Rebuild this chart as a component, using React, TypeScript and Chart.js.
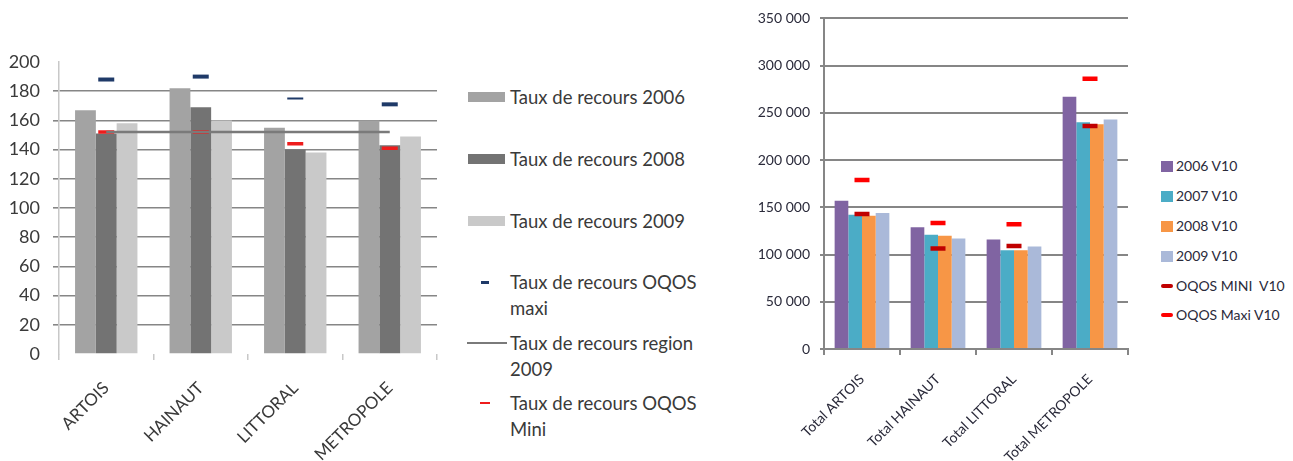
import React, { useEffect, useRef } from 'react';
import { Chart, registerables } from 'chart.js';
Chart.register(...registerables);

// ---- Left chart data ----
const regions = ['ARTOIS', 'HAINAUT', 'LITTORAL', 'METROPOLE'];
const taux2006 = [167, 182, 155, 160];
const taux2008 = [151, 169, 140, 143];
const taux2009 = [158, 160, 138, 149];
const oqosMaxi = [188, 190, 175, 171];
const region2009 = [152, 152, 152, 152];
const oqosMini = [152, 152, 144, 141];
const leftMin = 0;
const leftMax = 200;
const leftStep = 20;

// ---- Right chart data ----
const totals = ['Total ARTOIS', 'Total HAINAUT', 'Total LITTORAL', 'Total METROPOLE'];
const v2006 = [157000, 129000, 116000, 267000];
const v2007 = [142000, 121000, 104500, 240000];
const v2008 = [141000, 120000, 104500, 238000];
const v2009 = [144000, 117000, 108500, 243000];
const oqosMiniV10 = [143000, 106500, 109000, 236000];
const oqosMaxiV10 = [179000, 133500, 132000, 286000];
const rightMin = 0;
const rightMax = 350000;
const rightStep = 50000;

const FONT = 'Lato, "Open Sans", sans-serif';

const C = {
  g2006: '#a3a3a3',
  g2008: '#737373',
  g2009: '#c9c9c9',
  navy: '#1f3a68',
  regionLine: '#7a7a7a',
  red: '#ee1c1c',
  purple: '#8064a2',
  teal: '#4bacc6',
  orange: '#f79646',
  lightBlue: '#aab9d9',
  maxiRed: '#ff0000',
  miniRed: '#c00000',
};

function fmtThousands(v: number) {
  return String(v).replace(/\B(?=(\d{3})+(?!\d))/g, ' ');
}

function LeftChart() {
  const ref = useRef<HTMLCanvasElement>(null);
  useEffect(() => {
    const chart = new Chart(ref.current!, {
      type: 'bar',
      data: {
        labels: regions,
        datasets: [
          {
            type: 'line', label: 'Taux de recours OQOS maxi', data: oqosMaxi, showLine: false,
            pointStyle: 'line', pointRadius: 8, pointBorderWidth: [4, 4, 2, 4] as any,
            borderColor: C.navy, backgroundColor: C.navy, order: 0,
          } as any,
          {
            type: 'line', label: 'Taux de recours region 2009', data: region2009,
            borderColor: C.regionLine, borderWidth: 2.5, pointRadius: 0, order: 0,
          } as any,
          {
            type: 'line', label: 'Taux de recours OQOS Mini', data: oqosMini, showLine: false,
            pointStyle: 'line', pointRadius: 8, pointBorderWidth: 3.5,
            borderColor: C.red, backgroundColor: C.red, order: 0,
          } as any,
          { label: 'Taux de recours 2006', data: taux2006, backgroundColor: C.g2006, order: 1 },
          { label: 'Taux de recours 2008', data: taux2008, backgroundColor: C.g2008, order: 1 },
          { label: 'Taux de recours 2009', data: taux2009, backgroundColor: C.g2009, order: 1 },
        ],
      },
      options: {
        animation: false,
        responsive: false,
        layout: { padding: { left: 0, top: 62, right: 23, bottom: 0 } },
        plugins: { legend: { display: false }, tooltip: { enabled: false } },
        datasets: { bar: { categoryPercentage: 0.66, barPercentage: 1 } },
        scales: {
          x: {
            offset: true,
            grid: { offset: true, drawOnChartArea: false, color: '#c8c8c8', tickLength: 6, lineWidth: 1.5 },
            border: { display: false },
            ticks: { color: '#3a3a3a', font: { family: FONT, size: 17 }, minRotation: 45, maxRotation: 45, padding: 18 },
            afterFit: (s: any) => { s.height = 107; },
          },
          y: {
            min: leftMin, max: leftMax,
            ticks: { stepSize: leftStep, color: '#3a3a3a', font: { family: FONT, size: 18 }, padding: 13 },
            grid: {
              color: (ctx: any) => (ctx.tick && (ctx.tick.value === leftMin || ctx.tick.value === leftMax) ? 'rgba(0,0,0,0)' : '#868686'),
              lineWidth: 1.6, tickLength: 6,
            },
            border: { color: '#c8c8c8', width: 1.5 },
            afterFit: (s: any) => { s.width = 59; },
          },
        },
      } as any,
    });
    return () => chart.destroy();
  }, []);
  return <canvas ref={ref} width={460} height={461} style={{ position: 'absolute', left: 0, top: 0 }} />;
}

function RightChart() {
  const ref = useRef<HTMLCanvasElement>(null);
  useEffect(() => {
    const chart = new Chart(ref.current!, {
      type: 'bar',
      data: {
        labels: totals,
        datasets: [
          {
            type: 'line', label: 'OQOS MINI  V10', data: oqosMiniV10, showLine: false,
            pointStyle: 'line', pointRadius: 7.5, pointBorderWidth: 4.5,
            borderColor: C.miniRed, backgroundColor: C.miniRed, order: 0,
          } as any,
          {
            type: 'line', label: 'OQOS Maxi V10', data: oqosMaxiV10, showLine: false,
            pointStyle: 'line', pointRadius: 7.5, pointBorderWidth: 4.5,
            borderColor: C.maxiRed, backgroundColor: C.maxiRed, order: 0,
          } as any,
          { label: '2006 V10', data: v2006, backgroundColor: C.purple, order: 1 },
          { label: '2007 V10', data: v2007, backgroundColor: C.teal, order: 1 },
          { label: '2008 V10', data: v2008, backgroundColor: C.orange, order: 1 },
          { label: '2009 V10', data: v2009, backgroundColor: C.lightBlue, order: 1 },
        ],
      },
      options: {
        animation: false,
        responsive: false,
        layout: { padding: { left: 0, top: 14, right: 3, bottom: 0 } },
        plugins: { legend: { display: false }, tooltip: { enabled: false } },
        datasets: { bar: { categoryPercentage: 0.72, barPercentage: 1 } },
        scales: {
          x: {
            offset: true,
            grid: { offset: true, drawOnChartArea: false, color: '#868686', tickLength: 6, lineWidth: 2 },
            border: { color: '#868686', width: 2 },
            ticks: { color: '#2a2a3a', font: { family: FONT, size: 14 }, minRotation: 45, maxRotation: 45, padding: 16 },
            afterFit: (s: any) => { s.height = 112; },
          },
          y: {
            min: rightMin, max: rightMax,
            ticks: { stepSize: rightStep, color: '#2a2a3a', font: { family: FONT, size: 14 }, padding: 10, callback: (v: any) => fmtThousands(v) },
            grid: { color: '#868686', lineWidth: 2, tickLength: 4 },
            border: { color: '#868686', width: 2 },
            afterFit: (s: any) => { s.width = 84; },
          },
        },
      } as any,
    });
    return () => chart.destroy();
  }, []);
  return <canvas ref={ref} width={400} height={461} style={{ position: 'absolute', left: 740, top: 0 }} />;
}

type LeftItem = { lines: string[]; y: number; kind: 'box' | 'dash' | 'line' | 'thin'; color: string };
const leftLegend: LeftItem[] = [
  { lines: ['Taux de recours 2006'], y: 97, kind: 'box', color: C.g2006 },
  { lines: ['Taux de recours 2008'], y: 159, kind: 'box', color: C.g2008 },
  { lines: ['Taux de recours 2009'], y: 221, kind: 'box', color: C.g2009 },
  { lines: ['Taux de recours OQOS', 'maxi'], y: 282, kind: 'dash', color: C.navy },
  { lines: ['Taux de recours region', '2009'], y: 343, kind: 'line', color: C.regionLine },
  { lines: ['Taux de recours OQOS', 'Mini'], y: 403, kind: 'thin', color: C.red },
];

type RightItem = { label: string; y: number; kind: 'box' | 'line'; color: string };
const rightLegend: RightItem[] = [
  { label: '2006 V10', y: 166, kind: 'box', color: C.purple },
  { label: '2007 V10', y: 196, kind: 'box', color: C.teal },
  { label: '2008 V10', y: 226, kind: 'box', color: C.orange },
  { label: '2009 V10', y: 256, kind: 'box', color: C.lightBlue },
  { label: 'OQOS MINI\u00a0 V10', y: 286, kind: 'line', color: C.miniRed },
  { label: 'OQOS Maxi V10', y: 315, kind: 'line', color: C.maxiRed },
];

function LeftLegend() {
  return (
    <>
      {leftLegend.map((it, i) => {
        let marker;
        if (it.kind === 'box') marker = { left: 468, top: it.y - 5, width: 37, height: 10 };
        else if (it.kind === 'dash') marker = { left: 481, top: it.y - 1.5, width: 8, height: 3 };
        else if (it.kind === 'line') marker = { left: 467, top: it.y - 1, width: 40, height: 2 };
        else marker = { left: 480, top: it.y - 1, width: 10, height: 2 };
        return (
          <React.Fragment key={i}>
            <div style={{ position: 'absolute', background: it.color, ...marker }} />
            <div style={{
              position: 'absolute', left: 510, top: it.y - 13, font: `18.5px ${FONT}`, lineHeight: '26px',
              color: '#3a3a3a', whiteSpace: 'nowrap',
            }}>
              {it.lines.map((l, j) => <div key={j}>{l}</div>)}
            </div>
          </React.Fragment>
        );
      })}
    </>
  );
}

function RightLegend() {
  return (
    <>
      {rightLegend.map((it, i) => {
        const marker = it.kind === 'box'
          ? { left: 1161, top: it.y - 5.5, width: 12, height: 11, borderRadius: 0 }
          : { left: 1161, top: it.y - 2, width: 12, height: 4, borderRadius: 2 };
        return (
          <React.Fragment key={i}>
            <div style={{ position: 'absolute', background: it.color, ...marker }} />
            <div style={{
              position: 'absolute', left: 1176, top: it.y - 9, font: `14px ${FONT}`, lineHeight: '18px',
              color: '#2a2a3a', whiteSpace: 'nowrap',
            }}>{it.label}</div>
          </React.Fragment>
        );
      })}
    </>
  );
}

export default function App() {
  return (
    <div style={{ position: 'fixed', left: 0, top: 0, width: 1293, height: 461, background: '#fff', overflow: 'hidden' }}>
      <LeftChart />
      <LeftLegend />
      <RightChart />
      <RightLegend />
    </div>
  );
}
